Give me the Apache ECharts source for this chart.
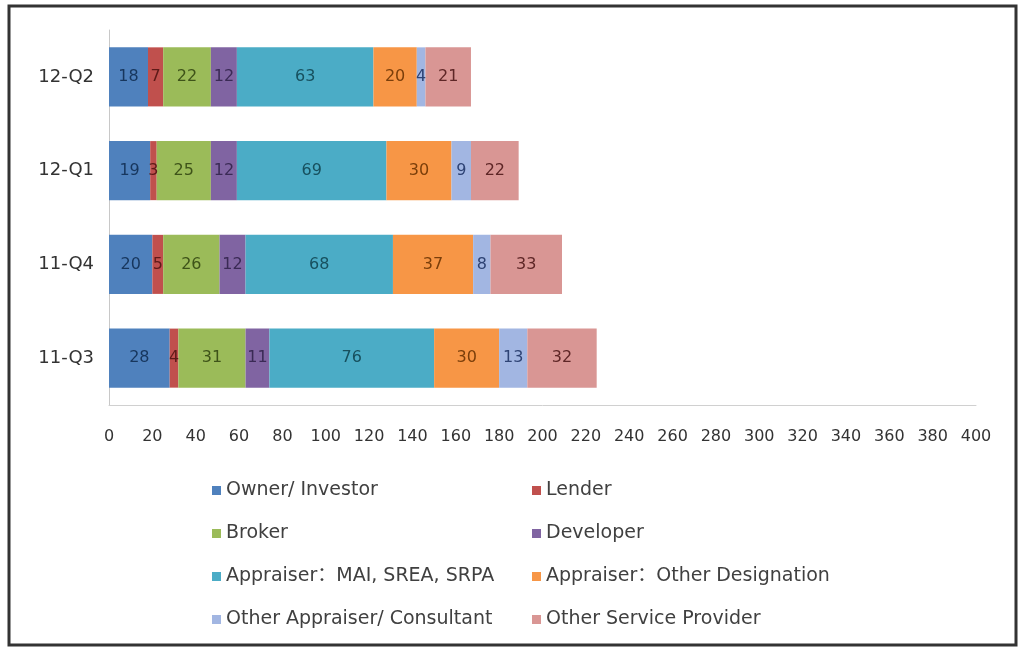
<!DOCTYPE html>
<html>
<head>
<meta charset="utf-8">
<script src="https://cdn.jsdelivr.net/npm/echarts@6/dist/echarts.min.js"></script>
<style>
  html, body { margin: 0; padding: 0; background: #ffffff; }
  #chart { width: 1026px; height: 651px; }
</style>
</head>
<body>
<div id="chart"></div>
<script>
// Quarters, bottom to top
const quarters = ['11-Q3', '11-Q4', '12-Q1', '12-Q2'];

// Respondents by type, per quarter (same order as quarters)
const ownerInvestor      = [28, 20, 19, 18];
const lender             = [4, 5, 3, 7];
const broker             = [31, 26, 25, 22];
const developer          = [11, 12, 12, 12];
const appraiserMAI       = [76, 68, 69, 63];
const appraiserOther     = [30, 37, 30, 20];
const otherAppraiser     = [13, 8, 9, 4];
const otherService       = [32, 33, 22, 21];

const seriesNames = [
  'Owner/ Investor', 'Lender', 'Broker', 'Developer',
  'Appraiser：MAI, SREA, SRPA', 'Appraiser：Other Designation',
  'Other Appraiser/ Consultant', 'Other Service Provider'
];
const seriesValues = [
  ownerInvestor, lender, broker, developer,
  appraiserMAI, appraiserOther, otherAppraiser, otherService
];
const barColors = ['#4F81BD', '#C0504D', '#9BBB59', '#8064A2',
                   '#4BACC6', '#F79646', '#A2B6E2', '#D99694'];
const labelColors = ['#17365D', '#5E1A18', '#3E5319', '#3A2A55',
                     '#17505E', '#7A3E0A', '#2E4374', '#5E2626'];

const xTicks = { min: 0, max: 400, interval: 20 };
const fontFam = '"DejaVu Sans", "Noto Sans CJK SC", sans-serif';

const chart = echarts.init(document.getElementById('chart'));

const legendText = { color: '#404040', fontSize: 19, fontFamily: fontFam };

chart.setOption({
  animation: false,
  backgroundColor: '#ffffff',
  textStyle: { fontFamily: fontFam },
  grid: { left: 109, right: 50, top: 30, bottom: 246 },
  xAxis: {
    type: 'value',
    min: xTicks.min, max: xTicks.max, interval: xTicks.interval,
    splitLine: { show: false },
    axisTick: { show: false },
    axisLine: { show: true, lineStyle: { color: '#d0d0d0', width: 1 } },
    axisLabel: { color: '#333333', fontSize: 16, margin: 24, fontFamily: fontFam }
  },
  yAxis: {
    type: 'category',
    data: quarters,
    axisTick: { show: false },
    axisLine: { show: true, lineStyle: { color: '#c8c8c8', width: 1 } },
    axisLabel: { color: '#333333', fontSize: 18, margin: 15, fontFamily: fontFam }
  },
  legend: [
    {
      orient: 'vertical', left: 207, top: 476, itemGap: 24,
      itemWidth: 9, itemHeight: 9, icon: 'rect',
      textStyle: legendText,
      data: [seriesNames[0], seriesNames[2], seriesNames[4], seriesNames[6]]
    },
    {
      orient: 'vertical', left: 527, top: 476, itemGap: 24,
      itemWidth: 9, itemHeight: 9, icon: 'rect',
      textStyle: legendText,
      data: [seriesNames[1], seriesNames[3], seriesNames[5], seriesNames[7]]
    }
  ],
  graphic: [{
    type: 'rect',
    shape: { x: 9, y: 6, width: 1007, height: 639 },
    style: { fill: 'none', stroke: '#333333', lineWidth: 3 },
    silent: true, z: 100
  }],
  series: seriesNames.map((name, i) => ({
    name: name,
    type: 'bar',
    stack: 'total',
    barWidth: '63%',
    data: seriesValues[i],
    itemStyle: { color: barColors[i] },
    label: {
      show: true,
      position: 'inside',
      color: labelColors[i],
      fontSize: 16,
      fontFamily: fontFam
    }
  }))
});
</script>
</body>
</html>
